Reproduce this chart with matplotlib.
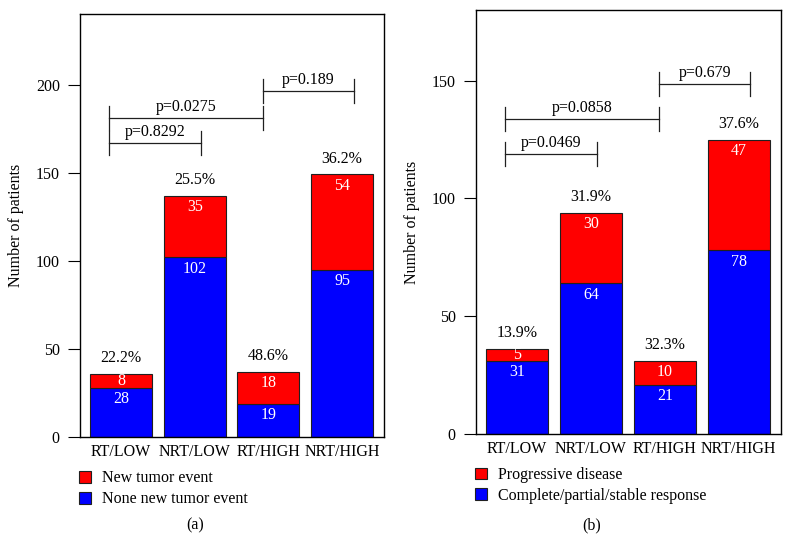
import matplotlib
matplotlib.use('Agg')
import matplotlib.pyplot as plt
from matplotlib.patches import Patch

plt.rcParams['font.family'] = ['Liberation Serif', 'DejaVu Serif']
plt.rcParams['font.size'] = 11.5

groups = ['RT/LOW', 'NRT/LOW', 'RT/HIGH', 'NRT/HIGH']

# (a) new tumor event
tumor_none = [28, 102, 19, 95]
tumor_new = [8, 35, 18, 54]
tumor_pct = ['22.2%', '25.5%', '48.6%', '36.2%']
tumor_pvals = ['p=0.8292', 'p=0.0275', 'p=0.189']
tumor_brackets = [(-0.163, 1.086, 166.6), (-0.163, 1.92, 181.3), (1.92, 3.163, 196.6)]
tumor_yticks = [0, 50, 100, 150, 200]

# (b) treatment response
resp_stable = [31, 64, 21, 78]
resp_prog = [5, 30, 10, 47]
resp_pct = ['13.9%', '31.9%', '32.3%', '37.6%']
resp_pvals = ['p=0.0469', 'p=0.0858', 'p=0.679']
resp_brackets = [(-0.163, 1.08, 118.8), (-0.163, 1.92, 133.8), (1.92, 3.157, 148.7)]
resp_yticks = [0, 50, 100, 150]

RED = '#ff0000'
BLUE = '#0000ff'


def draw_panel(ax, lower, upper, pct, pvals, brackets, yticks, ymax, legend_labels, leg_y):
    x = list(range(len(groups)))
    ax.bar(x, lower, width=0.84, color=BLUE, edgecolor='#202020', linewidth=0.8)
    ax.bar(x, upper, width=0.84, bottom=lower, color=RED, edgecolor='#202020', linewidth=0.8)
    ax.set_xlim(-0.557, 3.57)
    ax.set_ylim(0, ymax)
    ax.set_yticks(yticks)
    ax.set_xticks(x)
    ax.set_xticklabels(groups)
    ax.tick_params(axis='x', length=0, pad=5)
    ax.tick_params(axis='y', direction='out', length=9, width=0.8, pad=5.5)
    for s in ax.spines.values():
        s.set_linewidth(1.0)
        s.set_color('black')
    ax.set_ylabel('Number of patients')
    ax.yaxis.set_label_coords(-0.184, 0.5)

    # pixels per data unit, for the small offsets
    ppu = ax.bbox.height / ymax

    for i in x:
        lo, up = lower[i], upper[i]
        top = lo + up
        # white counts just under each segment top
        for seg_top, seg_h, val in ((lo, lo, lo), (top, up, up)):
            off = min(11.5, seg_h * ppu / 2) / ppu
            ax.text(i, seg_top - off, str(val), color='white', ha='center', va='center')
        ax.annotate(pct[i], (i, top), xytext=(0, 8.5), textcoords='offset points',
                    ha='center', va='baseline')

    cap = 12 / ppu
    for (x0, x1, y), label in zip(brackets, pvals):
        ax.plot([x0, x1], [y, y], color='#202020', lw=0.9)
        ax.plot([x0, x0], [y - cap, y + cap], color='#202020', lw=0.9)
        ax.plot([x1, x1], [y - cap, y + cap], color='#202020', lw=0.9)
        ax.annotate(label, ((x0 + x1) / 2, y), xytext=(0, 5), textcoords='offset points',
                    ha='center', va='baseline')

    handles = [Patch(facecolor=RED, edgecolor='#202020', linewidth=0.8),
               Patch(facecolor=BLUE, edgecolor='#202020', linewidth=0.8)]
    ax.legend(handles, legend_labels, loc='upper left', bbox_to_anchor=(-0.003, leg_y),
              frameon=False, borderpad=0, borderaxespad=0, handlelength=0.75,
              handleheight=0.75, handletextpad=0.7, labelspacing=0.3)


fig = plt.figure(figsize=(7.92, 5.58), dpi=100)
ax1 = fig.add_axes([0.101, 0.2168, 0.384, 0.758])
ax2 = fig.add_axes([0.601, 0.2222, 0.385, 0.760])

draw_panel(ax1, tumor_none, tumor_new, tumor_pct, tumor_pvals, tumor_brackets,
           tumor_yticks, 240, ['New tumor event', 'None new tumor event'], -0.079)
draw_panel(ax2, resp_stable, resp_prog, resp_pct, resp_pvals, resp_brackets,
           resp_yticks, 180, ['Progressive disease', 'Complete/partial/stable response'], -0.078)

fig.text(195 / 792, 1 - 525 / 558, '(a)', ha='center', va='center')
fig.text(592 / 792, 1 - 525 / 558, '(b)', ha='center', va='center')

fig.savefig('out.png', dpi=100)
